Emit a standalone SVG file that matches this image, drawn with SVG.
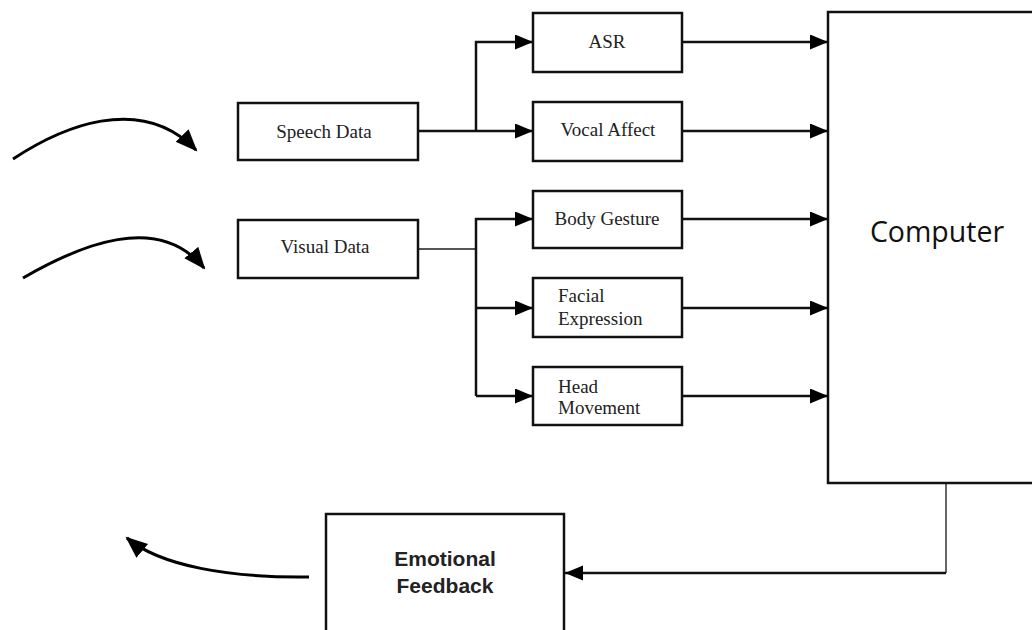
<svg xmlns="http://www.w3.org/2000/svg" width="1032" height="630" viewBox="0 0 1032 630">
  <defs>
    <marker id="arrow" markerUnits="userSpaceOnUse" markerWidth="20" markerHeight="16" refX="18" refY="7.5" orient="auto">
      <path d="M0,0 L18,7.5 L0,15 z" fill="#000"/>
    </marker>
    <marker id="arrowBig" markerUnits="userSpaceOnUse" markerWidth="24" markerHeight="20" refX="20" refY="9" orient="auto">
      <path d="M0,0 L22,9 L0,18 z" fill="#000"/>
    </marker>
  </defs>
  <style>
    .box { fill: #fff; stroke: #111; stroke-width: 2.5; }
    .serif { font-family: "Liberation Serif", "Times New Roman", serif; font-size: 19px; fill: #222; }
    .mid { text-anchor: middle; }
    .sans { font-family: "Open Sans", "Liberation Sans", sans-serif; font-size: 28.5px; fill: #111; text-anchor: middle; }
    .bold { font-family: "Liberation Sans", Arial, sans-serif; font-size: 21px; font-weight: bold; fill: #222; text-anchor: middle; }
    .conn { fill: none; stroke: #111; stroke-width: 2.5; }
    .thin { fill: none; stroke: #555; stroke-width: 1.8; }
    .curve { fill: none; stroke: #000; stroke-width: 3; }
  </style>
  <rect width="1032" height="630" fill="#fff"/>

  <g id="connectors">
    <!-- incoming data -->
    <path class="curve" d="M13,159 C60,128 140,92 196,150" marker-end="url(#arrowBig)"/>
    <path class="curve" d="M23,278 C80,245 158,212 204,268" marker-end="url(#arrowBig)"/>
    <!-- speech branches -->
    <path class="conn" d="M418,131 H533" marker-end="url(#arrow)"/>
    <path class="conn" d="M476,131 V42 H533" marker-end="url(#arrow)"/>
    <!-- visual branches -->
    <path class="thin" d="M418,249 H476"/>
    <path class="conn" d="M476,396 V219 H533" marker-end="url(#arrow)"/>
    <path class="conn" d="M476,308 H533" marker-end="url(#arrow)"/>
    <path class="conn" d="M476,396 H533" marker-end="url(#arrow)"/>
    <!-- into the computer -->
    <path class="conn" d="M682,42 H828" marker-end="url(#arrow)"/>
    <path class="conn" d="M682,131 H828" marker-end="url(#arrow)"/>
    <path class="conn" d="M682,219 H828" marker-end="url(#arrow)"/>
    <path class="conn" d="M682,308 H828" marker-end="url(#arrow)"/>
    <path class="conn" d="M682,396 H828" marker-end="url(#arrow)"/>
    <!-- feedback loop -->
    <path class="thin" d="M946,483 V573"/>
    <path class="conn" d="M946,573 H565" marker-end="url(#arrow)"/>
    <path class="curve" d="M309,577 C230,578 160,566 127,538" marker-end="url(#arrowBig)"/>
  </g>

  <g id="speech-data">
    <rect class="box" x="238" y="103" width="180" height="57"/>
    <text class="serif mid" x="324" y="138">Speech Data</text>
  </g>
  <g id="visual-data">
    <rect class="box" x="238" y="220" width="180" height="58"/>
    <text class="serif mid" x="325" y="253">Visual Data</text>
  </g>
  <g id="asr">
    <rect class="box" x="533" y="13" width="149" height="59"/>
    <text class="serif mid" x="607" y="48">ASR</text>
  </g>
  <g id="vocal-affect">
    <rect class="box" x="533" y="102" width="149" height="59"/>
    <text class="serif mid" x="608" y="136">Vocal Affect</text>
  </g>
  <g id="body-gesture">
    <rect class="box" x="533" y="191" width="149" height="57"/>
    <text class="serif mid" x="607" y="225">Body Gesture</text>
  </g>
  <g id="facial-expression">
    <rect class="box" x="533" y="278" width="149" height="59"/>
    <text class="serif" x="558" y="302">Facial</text>
    <text class="serif" x="558" y="325">Expression</text>
  </g>
  <g id="head-movement">
    <rect class="box" x="533" y="367" width="149" height="58"/>
    <text class="serif" x="558" y="393">Head</text>
    <text class="serif" x="558" y="414">Movement</text>
  </g>
  <g id="computer">
    <rect class="box" x="828" y="12" width="220" height="471"/>
    <text class="sans" x="937" y="242">Computer</text>
  </g>
  <g id="emotional-feedback">
    <rect class="box" x="326" y="514" width="238" height="130"/>
    <text class="bold" x="445" y="566">Emotional</text>
    <text class="bold" x="445" y="593">Feedback</text>
  </g>
</svg>
